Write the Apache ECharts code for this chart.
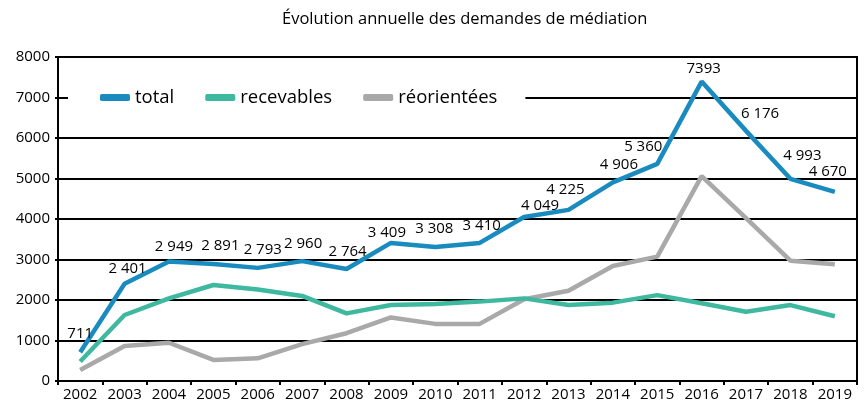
<!DOCTYPE html>
<html><head><meta charset="utf-8">
<script src="https://cdn.jsdelivr.net/npm/echarts@6/dist/echarts.min.js"></script>
<style>html,body{margin:0;padding:0;background:#fff}#c{width:865px;height:404px}</style>
</head><body><div id="c"></div>
<script>
var years = ['2002','2003','2004','2005','2006','2007','2008','2009','2010','2011','2012','2013','2014','2015','2016','2017','2018','2019'];
var total = [711, 2401, 2949, 2891, 2793, 2960, 2764, 3409, 3308, 3410, 4049, 4225, 4906, 5360, 7393, 6176, 4993, 4670];
var recevables = [480, 1630, 2040, 2370, 2260, 2100, 1670, 1875, 1900, 1960, 2040, 1875, 1935, 2120, 1920, 1710, 1875, 1600];
var reorientees = [270, 865, 945, 520, 560, 910, 1180, 1570, 1410, 1410, 2020, 2230, 2840, 3070, 5060, 4020, 2970, 2880];
var totalLabels = ['711','2 401','2 949','2 891','2 793','2 960','2 764','3 409','3 308','3 410','4 049','4 225','4 906','5 360','7393','6 176','4 993','4 670'];

// label offsets (layout only)
var labelOffsets = [[0,-5],[3,-2],[5,-1],[7,-5],[5,-5],[1,-4],[1,-4],[-4,3],[-1,-5],[2,-4],[16,2],[-3,-7],[6,-4],[-14,-4],[2,1],[14,-4],[12,-10],[-7,-7]];

var font = '"Open Sans", "Noto Sans", sans-serif';
var chart = echarts.init(document.getElementById('c'), null, {renderer:'canvas'});
var totalData = total.map(function(v,i){
  return {value:v, label:{offset:labelOffsets[i], formatter: totalLabels[i]}};
});
chart.setOption({
  animation:false,
  backgroundColor:'#fff',
  title:{text:'Évolution annuelle des demandes de médiation', left:277, top:6,
    textStyle:{fontFamily:font, fontSize:16.5, fontWeight:'normal', color:'#000'}},
  grid:{left:58, right:8, top:57, bottom:23, show:true, borderColor:'#000', borderWidth:2, backgroundColor:'transparent'},
  legend:{left:68, top:80, backgroundColor:'#fff', padding:[8,28,8,32], itemGap:31,
    itemWidth:30, itemHeight:7, icon:'roundRect',
    textStyle:{fontFamily:font, fontSize:18.5, color:'#000'},
    data:['total','recevables','réorientées']},
  xAxis:{type:'category', data:years, boundaryGap:true,
    axisLine:{lineStyle:{color:'#000', width:2}},
    axisTick:{show:true, length:4, interval:0, lineStyle:{color:'#000', width:2}},
    axisLabel:{fontFamily:font, fontSize:15, color:'#000', margin:6, interval:0}},
  yAxis:{type:'value', min:0, max:8000, interval:1000,
    axisLine:{show:true, lineStyle:{color:'#000', width:2}},
    axisTick:{show:true, length:3, lineStyle:{color:'#000', width:2}},
    splitLine:{lineStyle:{color:'#000', width:2}},
    axisLabel:{fontFamily:font, fontSize:15, color:'#000', margin:8, formatter:function(v){return String(v);}}},
  series:[
    {name:'total', type:'line', data:totalData, showSymbol:true, symbol:'circle', symbolSize:0,
      lineStyle:{color:'#1a8bbf', width:4.5}, itemStyle:{color:'#1a8bbf'}, z:5,
      label:{show:true, position:'top', distance:6, fontFamily:font, fontSize:15, color:'#000'}},
    {name:'recevables', type:'line', data:recevables, showSymbol:false, symbol:'none',
      lineStyle:{color:'#3fb8a0', width:4.5}, itemStyle:{color:'#3fb8a0'}, z:4},
    {name:'réorientées', type:'line', data:reorientees, showSymbol:false, symbol:'none',
      lineStyle:{color:'#a9a9a9', width:4.5}, itemStyle:{color:'#a9a9a9'}, z:3}
  ]
});
</script></body></html>
